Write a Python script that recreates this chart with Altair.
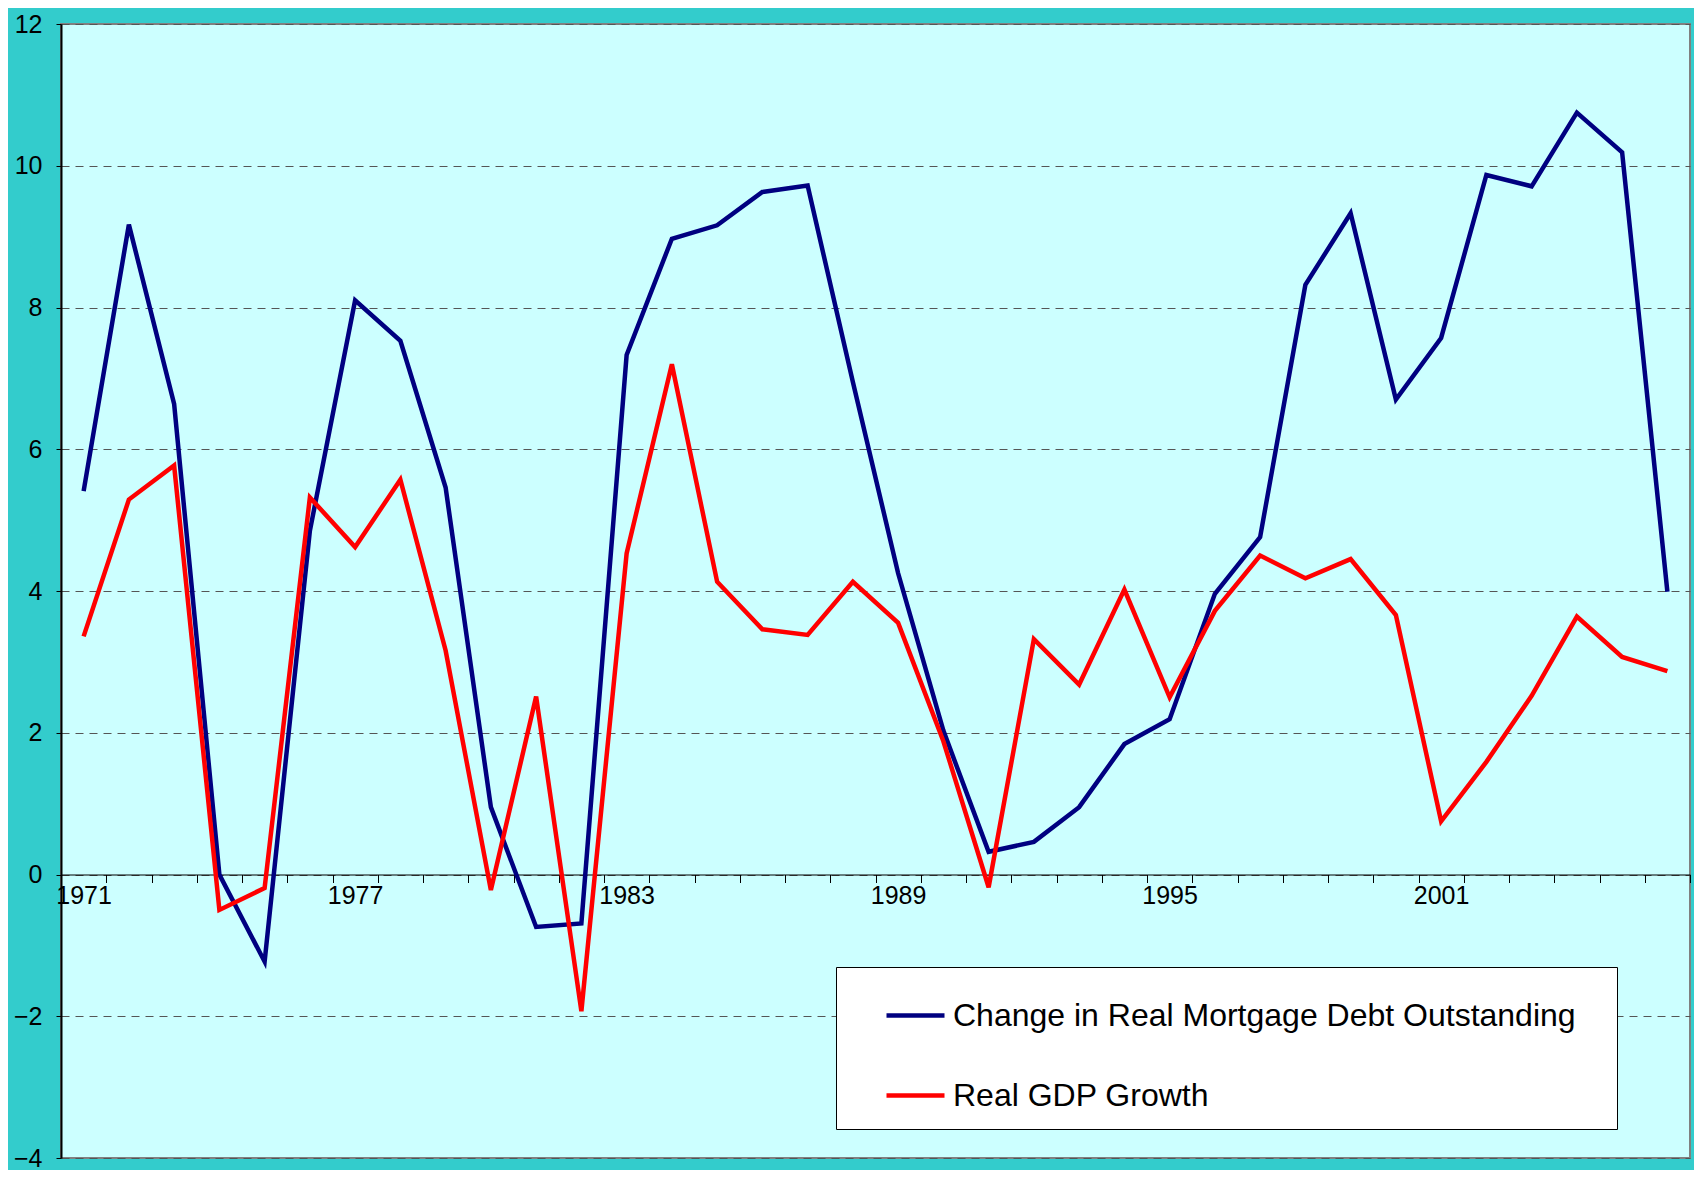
import altair as alt
import pandas as pd

years = list(range(1971, 2007))
mortgage = [5.41, 9.17, 6.64, 0.0, -1.23, 4.85, 8.10, 7.53, 5.46, 0.95,
            -0.74, -0.69, 7.33, 8.97, 9.16, 9.63, 9.72, 6.95, 4.25, 2.03,
            0.32, 0.46, 0.95, 1.84, 2.19, 3.96, 4.76, 8.32, 9.33, 6.70,
            7.57, 9.87, 9.71, 10.75, 10.19, 3.99]
gdp = [3.36, 5.29, 5.77, -0.50, -0.19, 5.32, 4.62, 5.57, 3.16, -0.22,
       2.51, -1.93, 4.53, 7.20, 4.13, 3.46, 3.38, 4.13, 3.55, 1.88,
       -0.18, 3.32, 2.68, 4.02, 2.50, 3.72, 4.50, 4.18, 4.45, 3.66,
       0.75, 1.59, 2.52, 3.64, 3.07, 2.87]
series_names = ["Change in Real Mortgage Debt Outstanding", "Real GDP Growth"]
series_colors = ["#000080", "#FF0000"]
y_ticks = [-4, -2, 0, 2, 4, 6, 8, 10, 12]

df = pd.DataFrame({
    "year": years * 2,
    "value": mortgage + gdp,
    "series": [series_names[0]] * len(years) + [series_names[1]] * len(years),
})

W = 1629
H = 1134
FONT = "Liberation Sans"

x_enc = alt.X(
    "year:O",
    bandPosition=0.5,
    scale=alt.Scale(type="band", paddingInner=0, paddingOuter=0),
    axis=alt.Axis(
        title=None,
        offset=-H / 4,
        domainColor="#000000",
        domainWidth=1,
        tickColor="#000000",
        tickSize=8,
        tickBand="extent",
        labelAngle=0,
        labelOverlap=False,
        labelExpr="(datum.value - 1971) % 6 == 0 ? datum.label : ''",
        labelFont=FONT,
        labelFontSize=25,
        labelColor="#000000",
        labelPadding=1,
        grid=False,
    ),
)
y_enc = alt.Y(
    "value:Q",
    scale=alt.Scale(domain=[-4, 12], nice=False, zero=False),
    axis=alt.Axis(
        title=None,
        values=y_ticks,
        grid=True,
        gridDash=[8, 6],
        gridColor="#555555",
        gridWidth=1,
        domainColor="#000000",
        domainWidth=2,
        tickColor="#000000",
        tickSize=5,
        labelFont=FONT,
        labelFontSize=25,
        labelColor="#000000",
        labelPadding=14,
    ),
)
color_enc = alt.Color(
    "series:N",
    scale=alt.Scale(domain=series_names, range=series_colors),
    legend=alt.Legend(
        title=" ",
        titleOrient="right",
        titlePadding=24,
        titleFontSize=10,
        orient="none",
        legendX=775,
        legendY=943,
        fillColor="#FFFFFF",
        strokeColor="#000000",
        padding=17,
        symbolType="stroke",
        symbolSize=3364,
        symbolStrokeWidth=4.5,
        symbolOffset=31,
        labelOffset=6,
        labelFont=FONT,
        labelFontSize=32,
        labelColor="#000000",
        labelLimit=2000,
        rowPadding=32,
    ),
)

base = alt.Chart(df).encode(x=x_enc, y=y_enc, color=color_enc)
l1 = base.transform_filter(alt.datum.series == series_names[0]).mark_line(strokeWidth=4.5, strokeJoin="miter")
l2 = base.transform_filter(alt.datum.series == series_names[1]).mark_line(strokeWidth=4.5, strokeJoin="miter")

chart = alt.layer(l1, l2).properties(
    width=W,
    height=H,
    background="#33CCCC",
    padding={"left": 53, "top": 16, "right": 4, "bottom": 12},
    autosize=alt.AutoSizeParams(type="none"),
).configure_view(
    fill="#CCFFFF",
    stroke="#808080",
    strokeWidth=2,
)

chart.save("out.html", embed_options={"renderer": "svg", "actions": False})
